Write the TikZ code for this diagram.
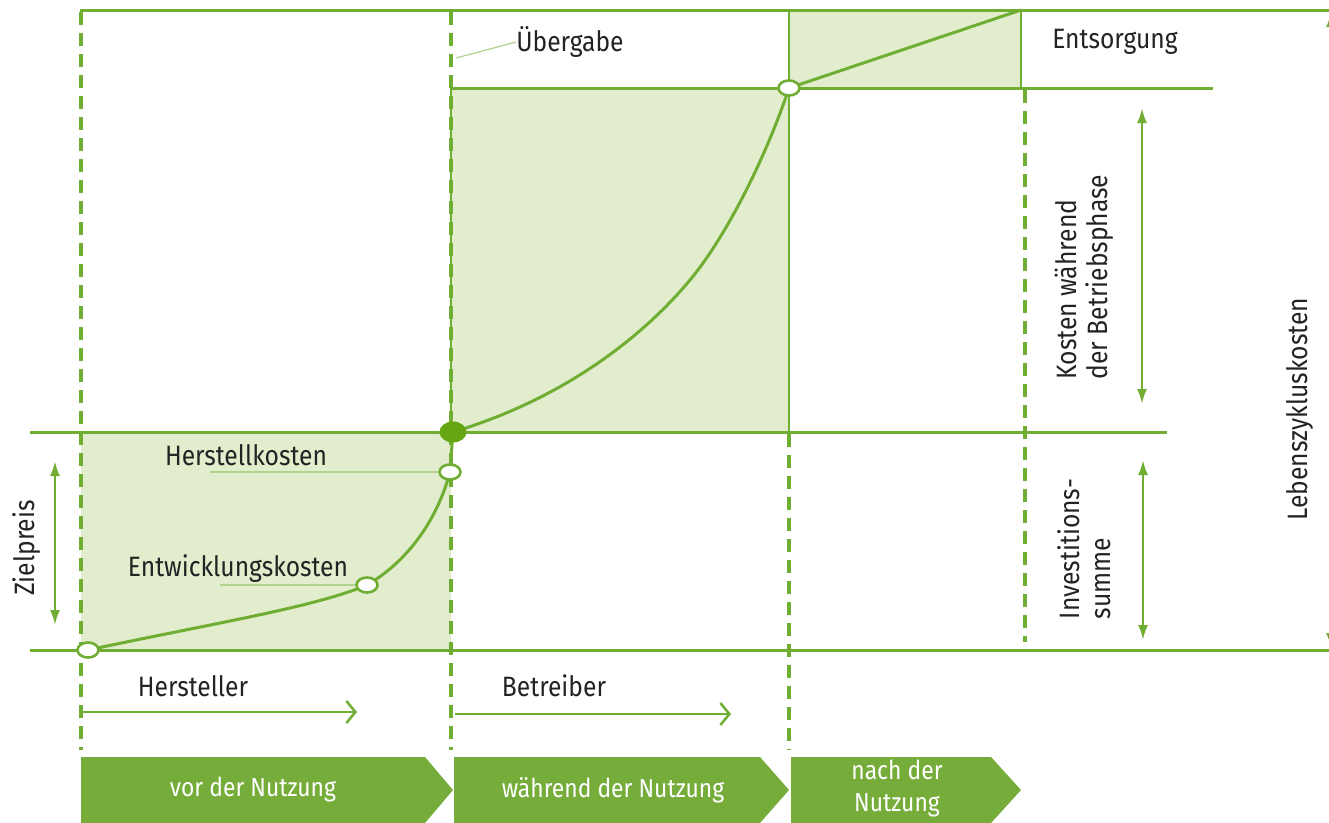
\documentclass[tikz,border=0pt]{standalone}
\usepackage{fontspec}
\setmainfont{Fira Sans}[FakeStretch=0.88]
\usetikzlibrary{arrows.meta,shapes.geometric}
\definecolor{lg}{RGB}{112,173,51}
\definecolor{lgdark}{RGB}{102,165,20}
\definecolor{lfill}{RGB}{226,237,205}
\definecolor{boxg}{RGB}{118,173,58}
\definecolor{txt}{RGB}{35,35,35}
\definecolor{leadc}{RGB}{175,210,140}
\tikzset{
  mainline/.style={draw=lg, line width=3pt},
  dashline/.style={draw=lg, line width=3.2pt, dash pattern=on 13pt off 8pt},
  thinborder/.style={draw=lg, line width=1.3pt},
  shadebox/.style={fill=lfill},
  lbl/.style={text=txt, font=\fontsize{28}{31}\selectfont, inner sep=0pt},
  boxlbl/.style={text=white, font=\fontsize{26}{32}\selectfont, inner sep=0pt, align=center},
  leader/.style={draw=leadc, line width=1.2pt},
  dimarrow/.style={draw=lg, line width=2.5pt, {Latex[length=15pt,width=10pt]}-{Latex[length=15pt,width=10pt]}},
  flowarrow/.style={draw=lg, line width=2.5pt, -{Straight Barb[length=9pt,width=22pt,line width=2.5pt]}},
  curveline/.style={draw=lg, line width=3pt},
  openpt/.style={ellipse, draw=lg, line width=2.6pt, fill=white, minimum width=21pt, minimum height=15pt, inner sep=0pt},
  fullpt/.style={ellipse, fill=lgdark, minimum width=27pt, minimum height=21pt, inner sep=0pt},
  chevron/.style={fill=boxg}
}
\begin{document}
\begin{tikzpicture}[x=1pt,y=-1pt]
\useasboundingbox (0,0) rectangle (1329,822);
% shaded areas
\path[shadebox] (451,88) rectangle (789,432);
\path[shadebox] (81,432) rectangle (451,650);
\path[shadebox] (789,10) rectangle (1021,88);
\draw[thinborder] (789,10) -- (789,432);
\draw[thinborder] (1021,10) -- (1021,88);
\draw[thinborder] (451,88) -- (451,432);
% dashed verticals
\draw[dashline] (81,12) -- (81,750);
\draw[dashline] (451,12) -- (451,750);
\draw[dashline] (789,434) -- (789,750);
\draw[dashline] (1025,90) -- (1025,642);
% main horizontals
\draw[mainline] (80,10) -- (1329,10);
\draw[mainline] (451,88) -- (1213,88);
\draw[mainline] (30,432) -- (1167,432);
\draw[mainline] (30,650) -- (1329,650);
% curve points
\coordinate (c0) at (88,650);
\coordinate (c1) at (367,585);
\coordinate (c2) at (450,472);
\coordinate (c3) at (453,432);
\coordinate (cm) at (690,280);
\coordinate (c4) at (789,88);
\coordinate (c5) at (1021,10);
\draw[curveline] (c0) .. controls (220,622) and (315,607) .. (c1)
  .. controls (410,560) and (438,517) .. (c2) -- (c3)
  .. controls (560,400) and (640,340) .. (cm)
  .. controls (725,238) and (765,160) .. (c4) -- (c5);
\node[openpt] (p0) at (c0) {};
\node[openpt] (p1) at (c1) {};
\node[openpt] (p2) at (c2) {};
\node[fullpt] (p3) at (c3) {};
\node[openpt] (p4) at (c4) {};
% labels
\node[lbl] (ueb) at (570,42) {Übergabe};
\coordinate (uebl) at (456,58);
\draw[leader] (uebl) -- (ueb.west);
\node[lbl] (ents) at (1115,42) {Entsorgung};
\node[lbl] (herk) at (246,455) {Herstellkosten};
\coordinate (herkA) at (210,472);
\draw[leader] (herkA) -- (p2.west);
\node[lbl] (entw) at (238,569) {Entwicklungskosten};
\coordinate (entwA) at (220,585);
\draw[leader] (entwA) -- (p1.west);
\node[lbl, rotate=90] (ziel) at (27,548) {Zielpreis};
\coordinate (zA) at (55,461);
\coordinate (zB) at (55,625);
\draw[dimarrow] (zA) -- (zB);
\node[lbl, rotate=90, align=left] (kost) at (1084,277) {Kosten während\\der Betriebsphase};
\coordinate (kA) at (1142,108);
\coordinate (kB) at (1142,404);
\draw[dimarrow] (kA) -- (kB);
\node[lbl, rotate=90, align=left] (inv) at (1084,549) {Investitions-\\summe};
\coordinate (iA) at (1143,460);
\coordinate (iB) at (1143,640);
\draw[dimarrow] (iA) -- (iB);
\node[lbl, rotate=90] (leb) at (1300,409) {Lebenszykluskosten};
\coordinate (lA) at (1331,12);
\coordinate (lB) at (1331,648);
\draw[dimarrow] (lA) -- (lB);
% actors
\node[lbl] (hers) at (193,686) {Hersteller};
\coordinate (hA) at (83,712);
\coordinate (hB) at (357,712);
\draw[flowarrow] (hA) -- (hB);
\node[lbl] (betr) at (554,686) {Betreiber};
\coordinate (bA) at (455,714);
\coordinate (bB) at (731,714);
\draw[flowarrow] (bA) -- (bB);
% phase chevrons
\path[chevron] (81,757) -- (425,757) -- (453,790) -- (425,823) -- (81,823) -- cycle;
\path[chevron] (454,757) -- (760,757) -- (789,790) -- (760,823) -- (454,823) -- cycle;
\path[chevron] (791,757) -- (991,757) -- (1021,790) -- (991,823) -- (791,823) -- cycle;
\node[boxlbl] (ph1) at (253,790) {vor der Nutzung};
\node[boxlbl] (ph2) at (613,790) {während der Nutzung};
\node[boxlbl] (ph3) at (897,789) {nach der\\Nutzung};
\end{tikzpicture}
\end{document}
